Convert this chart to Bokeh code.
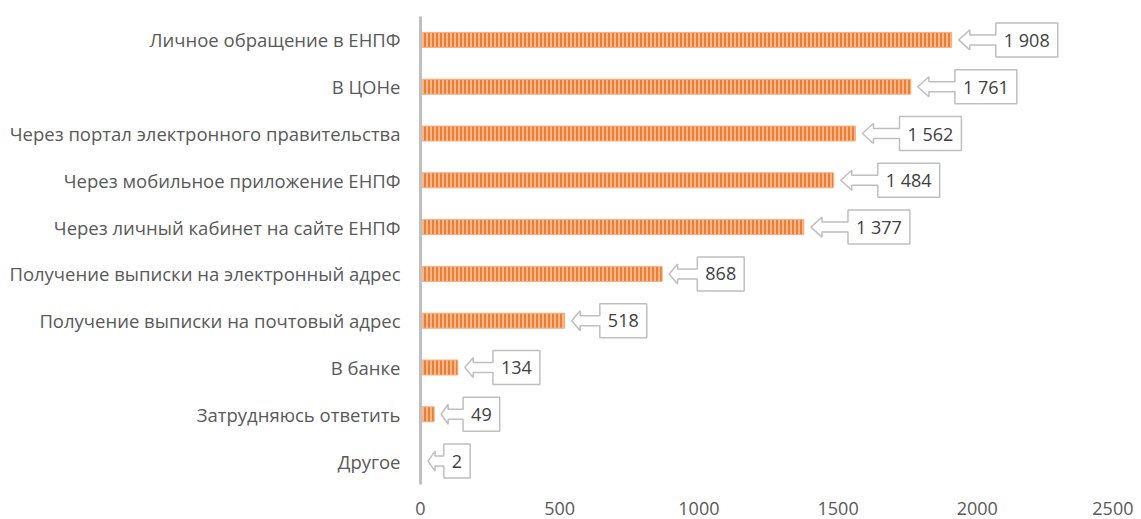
from bokeh.plotting import figure
from bokeh.models import ColumnDataSource, FixedTicker
from bokeh.core.properties import value
from bokeh.embed import file_html
from bokeh.resources import INLINE

categories = [
    "Личное обращение в ЕНПФ",
    "В ЦОНе",
    "Через портал электронного правительства",
    "Через мобильное приложение ЕНПФ",
    "Через личный кабинет на сайте ЕНПФ",
    "Получение выписки на электронный адрес",
    "Получение выписки на почтовый адрес",
    "В банке",
    "Затрудняюсь ответить",
    "Другое",
]
values = [1908, 1761, 1562, 1484, 1377, 868, 518, 134, 49, 2]
x_ticks = [0, 500, 1000, 1500, 2000, 2500]

FONT = "Open Sans"
N = len(categories)
XMAX = 2500
FW, FH = 696, 468
ML, MT, MR = 420, 16, 17
W = ML + FW + MR
H = 519
MB = H - MT - FH

ypos = [N - 1 - i for i in range(N)]
labels = ["{:,}".format(v).replace(",", " ") for v in values]

p = figure(width=W, height=H, output_backend="svg", toolbar_location=None,
           x_range=(0, XMAX), y_range=(-0.5, N - 0.5),
           min_border_left=ML, min_border_top=MT, min_border_right=MR,
           min_border_bottom=MB)
p.outline_line_color = None
p.xgrid.visible = False
p.ygrid.visible = False
p.background_fill_color = "white"
p.border_fill_color = "white"

src = ColumnDataSource(dict(y=ypos, v=values, lab=labels))
p.hbar(y="y", right="v", left=0, height=0.32, source=src,
       fill_color="#ED7D31", line_color="#F4B183", line_width=1,
       hatch_pattern="vertical_line", hatch_color="#F8CBAD",
       hatch_scale=4, hatch_weight=1.5)

# callouts
upx = XMAX / FW
vpx = N / FH
xs, ys, tx, ty = [], [], [], []
for v, y, lab in zip(values, ypos, labels):
    tw = sum(10.3 if ch.isdigit() else 4.7 for ch in lab)
    bw = tw + 16
    al = bw * 0.6
    hl = max(al * 0.3, 7)
    tip = v / upx + 7
    pts = [(tip, 0), (tip + hl, 10), (tip + hl, 5), (tip + al, 5),
           (tip + al, 17), (tip + al + bw, 17), (tip + al + bw, -17),
           (tip + al, -17), (tip + al, -5), (tip + hl, -5),
           (tip + hl, -10)]
    xs.append([q[0] * upx for q in pts])
    ys.append([y + q[1] * vpx for q in pts])
    tx.append((tip + al + bw / 2) * upx)
    ty.append(y)

p.patches(xs=xs, ys=ys, fill_color="white", line_color="#BFBFBF", line_width=1.5)
p.text(x=tx, y=ty, text=labels, text_align="center", text_baseline="middle",
       text_font=value(FONT), text_font_size="18px", text_color="#404040")

p.xaxis.ticker = FixedTicker(ticks=x_ticks)
p.xaxis.axis_line_color = None
p.xaxis.major_tick_line_color = None
p.xaxis.minor_tick_line_color = None
p.xaxis.major_label_standoff = 11
p.xaxis.major_label_text_font = FONT
p.xaxis.major_label_text_font_size = "18px"
p.xaxis.major_label_text_color = "#595959"

p.yaxis.ticker = FixedTicker(ticks=ypos)
p.yaxis.major_label_overrides = {y: c for y, c in zip(ypos, categories)}
p.yaxis.axis_line_color = "#BFBFBF"
p.yaxis.axis_line_width = 3
p.yaxis.major_tick_line_color = None
p.yaxis.minor_tick_line_color = None
p.yaxis.major_label_standoff = 14
p.yaxis.major_label_text_font = FONT
p.yaxis.major_label_text_font_size = "18.5px"
p.yaxis.major_label_text_color = "#595959"

open("out.html", "w").write(file_html(p, INLINE))
